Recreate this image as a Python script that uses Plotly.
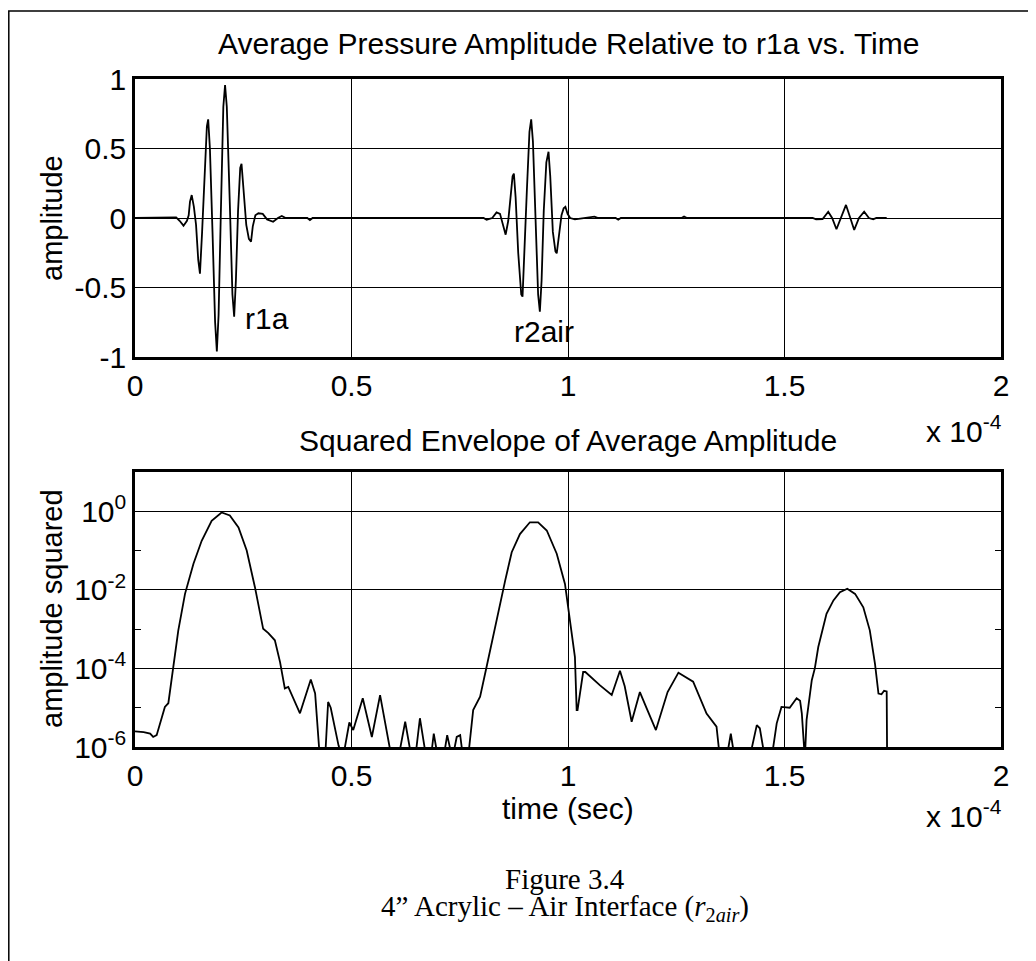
import plotly.graph_objects as go

# ---------------- data (time in units of 1e-4 s) ----------------
wave_t = [0.000, 0.085, 0.095, 0.103, 0.112, 0.120, 0.124, 0.127, 0.131, 0.136,
          0.141, 0.146, 0.150, 0.155, 0.160, 0.166, 0.169, 0.173, 0.179, 0.185,
          0.189, 0.193, 0.198, 0.204, 0.208, 0.212, 0.219, 0.225, 0.229, 0.233,
          0.238, 0.243, 0.246, 0.250, 0.257, 0.263, 0.268, 0.272, 0.278, 0.285,
          0.295, 0.305, 0.319, 0.330, 0.339, 0.348, 0.398, 0.404, 0.410,
          0.805, 0.812, 0.825, 0.835, 0.843, 0.850, 0.856, 0.862, 0.866, 0.872,
          0.875, 0.879, 0.885, 0.892, 0.895, 0.899, 0.905, 0.911, 0.915, 0.919,
          0.925, 0.931, 0.935, 0.939, 0.944, 0.950, 0.955, 0.959, 0.965, 0.971,
          0.974, 0.978, 0.985, 0.990, 0.994, 0.999, 1.005, 1.016, 1.030, 1.045,
          1.061, 1.070, 1.110, 1.116, 1.122, 1.262, 1.268, 1.275,
          1.565, 1.573, 1.588, 1.601, 1.610, 1.620, 1.630, 1.642, 1.652, 1.661,
          1.672, 1.684, 1.695, 1.705, 1.712, 1.736]
wave_a = [0.0, 0.0, 0.005, -0.02, -0.055, -0.02, 0.02, 0.118, 0.165, 0.08,
          -0.05, -0.30, -0.40, -0.10, 0.30, 0.66, 0.71, 0.50, -0.10, -0.75,
          -0.96, -0.70, 0.0, 0.80, 0.957, 0.80, 0.10, -0.55, -0.71, -0.45,
          0.05, 0.36, 0.39, 0.22, -0.05, -0.15, -0.17, -0.06, 0.02, 0.034,
          0.030, -0.01, -0.027, 0.0, 0.014, 0.0, 0.0, -0.015, 0.0,
          0.0, -0.012, 0.0, 0.04, 0.03, -0.05, -0.12, -0.02, 0.10, 0.30,
          0.32, 0.15, -0.25, -0.55, -0.566, -0.30, 0.20, 0.62, 0.71, 0.55,
          0.0, -0.55, -0.674, -0.45, 0.05, 0.40, 0.477, 0.30, -0.10, -0.24,
          -0.254, -0.15, 0.02, 0.07, 0.081, 0.03, 0.0, -0.01, -0.005, 0.0,
          0.01, 0.0, 0.0, -0.012, 0.0, 0.0, 0.01, 0.0,
          0.0, -0.01, -0.008, 0.045, 0.0, -0.081, 0.0, 0.094, 0.0, -0.086,
          0.0, 0.045, 0.0, -0.01, 0.0, 0.0]

env_t = [0.000, 0.020, 0.035, 0.042, 0.050, 0.060, 0.069, 0.077, 0.0885, 0.100,
         0.1155, 0.135, 0.154, 0.177, 0.200, 0.219, 0.239, 0.258, 0.277, 0.296,
         0.308, 0.323, 0.335, 0.346, 0.354, 0.381, 0.406, 0.416, 0.427, 0.439,
         0.446, 0.452, 0.470, 0.480, 0.495, 0.504, 0.526, 0.547, 0.566, 0.593,
         0.608, 0.624, 0.639, 0.647, 0.658, 0.673, 0.683, 0.690, 0.700, 0.712,
         0.721, 0.733, 0.743, 0.751, 0.758, 0.769, 0.781, 0.797, 0.812, 0.828,
         0.843, 0.855, 0.870, 0.889, 0.912, 0.931, 0.951, 0.974, 0.993, 1.005,
         1.016, 1.020, 1.022, 1.035, 1.040, 1.074, 1.101, 1.120, 1.131, 1.147,
         1.166, 1.181, 1.203, 1.230, 1.255, 1.289, 1.320, 1.343, 1.351, 1.366,
         1.376, 1.385, 1.419, 1.436, 1.443, 1.455, 1.470, 1.482, 1.493, 1.512,
         1.528, 1.536, 1.540, 1.547, 1.551, 1.563, 1.570, 1.578, 1.586, 1.597,
         1.613, 1.628, 1.645, 1.663, 1.682, 1.697, 1.709, 1.717, 1.724, 1.730,
         1.736, 1.737]
env_v = [2.5e-6, 2.4e-6, 2.2e-6, 1.8e-6, 2.0e-6, 4.5e-6, 1.05e-5, 1.3e-5, 1.1e-4, 9.3e-4,
         7.9e-3, 4.6e-2, 0.178, 0.575, 0.93, 0.78, 0.39, 0.10, 1.17e-2, 1.02e-3,
         7.9e-4, 5.2e-4, 1.45e-4, 3.1e-5, 3.4e-5, 7.2e-6, 5.2e-5, 2.3e-5, 5e-7, 5e-7,
         1.4e-5, 1.0e-5, 1.1e-6, 5e-7, 4.2e-6, 2.7e-6, 1.74e-5, 1.8e-6, 2.1e-5, 5e-7,
         5e-7, 4.4e-6, 5e-7, 5e-7, 5.4e-6, 5e-7, 5e-7, 2.2e-6, 5e-7, 5e-7,
         2.0e-6, 5e-7, 1.8e-6, 2.0e-6, 5e-7, 5e-7, 8.7e-6, 1.9e-5, 1.1e-4, 7.8e-4,
         4.5e-3, 1.74e-2, 9.1e-2, 0.263, 0.525, 0.525, 0.324, 8.3e-2, 1.41e-2, 1.66e-3,
         1.95e-4, 8.7e-6, 8.7e-6, 8.1e-5, 8.1e-5, 3.7e-5, 2.1e-5, 8.7e-5, 3.5e-5, 4.4e-6,
         2.5e-5, 1.0e-5, 2.7e-6, 2.5e-5, 7.8e-5, 4.6e-5, 7.1e-6, 3.3e-6, 5e-7, 5e-7,
         2.2e-6, 5e-7, 5e-7, 3.6e-6, 3.0e-6, 5e-7, 5e-7, 4.0e-6, 1.05e-5, 1.0e-5,
         1.74e-5, 1.5e-5, 7.2e-6, 5e-7, 4.9e-6, 5.0e-5, 1.0e-4, 3.5e-4, 7.8e-4, 2.45e-3,
         5.4e-3, 8.7e-3, 1.07e-2, 7.9e-3, 3.6e-3, 9.3e-4, 1.3e-4, 2.3e-5, 2.2e-5, 2.7e-5,
         2.6e-5, 5e-7]

x_ticks = [0, 0.5, 1, 1.5, 2]
x_ticklabels = ["0", "0.5", "1", "1.5", "2"]
y1_ticks = [-1, -0.5, 0, 0.5, 1]
y1_ticklabels = ["-1", "-0.5", "0", "0.5", "1"]
y2_ticks = [1e-6, 1e-4, 1e-2, 1]
y2_ticklabels = ["10<sup>-6</sup>", "10<sup>-4</sup>", "10<sup>-2</sup>", "10<sup>0</sup>"]
y2_minor = [1e-5, 1e-3, 1e-1]

title1 = "Average Pressure Amplitude Relative to r1a vs. Time"
title2 = "Squared Envelope of Average Amplitude"
xlabel2 = "time (sec)"
ylabel1 = "amplitude"
ylabel2 = "amplitude squared"
exp_label = "x 10<sup>-4</sup>"
caption1 = "Figure 3.4"
caption2 = "4\u201d Acrylic \u2013 Air Interface (<i>r</i><sub>2<i>air</i></sub>)"

# ---------------- layout geometry ----------------
OFF = 8                      # page body margin
W, H = 1036 - OFF, 961 - OFF
L, T = 135 - OFF, 79 - OFF   # plot area left/top in figure pixels
PW, PH = 866, 668
R, B = W - L - PW, H - T - PH


def px(x):          # page pixel -> paper fraction
    return (x - OFF - L) / PW


def py(y):
    return (T + PH - (y - OFF)) / PH


FONT = "Liberation Sans, Arial, sans-serif"
FS = 30
FS_ROT = 29
SERIF = "Liberation Serif, Times New Roman, serif"

fig = go.Figure()
fig.add_trace(go.Scatter(x=wave_t, y=wave_a, mode="lines",
                         line=dict(color="black", width=1.8),
                         xaxis="x", yaxis="y", showlegend=False))
fig.add_trace(go.Scatter(x=env_t, y=env_v, mode="lines",
                         line=dict(color="black", width=1.8),
                         xaxis="x2", yaxis="y2", showlegend=False))

axis_common = dict(showline=True, linecolor="black", linewidth=2.5, mirror="ticks",
                   ticks="inside", ticklen=6, tickcolor="black", tickwidth=1,
                   showgrid=True, gridcolor="black", gridwidth=1.3, zeroline=False,
                   tickfont=dict(family=FONT, size=FS, color="black"))

fig.update_layout(
    width=W, height=H,
    margin=dict(l=L, r=R, t=T, b=B, pad=0),
    paper_bgcolor="white", plot_bgcolor="white",
    xaxis=dict(domain=[0, 1], anchor="y", range=[0, 2], tickvals=x_ticks,
               ticktext=x_ticklabels, **axis_common),
    yaxis=dict(domain=[py(357), 1], anchor="x", range=[-1, 1], tickvals=y1_ticks,
               ticktext=y1_ticklabels, **axis_common),
    xaxis2=dict(domain=[0, 1], anchor="y2", range=[0, 2], tickvals=x_ticks,
                ticktext=x_ticklabels, **axis_common),
    yaxis2=dict(domain=[0, py(472)], anchor="x2", type="log", range=[-6, 1],
                tickvals=y2_ticks, ticktext=y2_ticklabels,
                minor=dict(tickvals=y2_minor, ticks="inside", ticklen=6,
                           tickcolor="black", showgrid=False),
                **axis_common),
)

ann = []


def add_text(text, x, y, size=FS, family=FONT, angle=0, xanchor="center",
             yanchor="middle", xref="paper", yref="paper"):
    ann.append(dict(text=text, x=x, y=y, xref=xref, yref=yref, showarrow=False,
                    xanchor=xanchor, yanchor=yanchor, textangle=angle,
                    font=dict(family=family, size=size, color="black")))


add_text(title1, px(568), py(44))
add_text(title2, px(568), py(440))
add_text(xlabel2, px(568), py(808))
add_text(ylabel1, px(52), py(218), size=FS_ROT, angle=-90)
add_text(ylabel2, px(52), py(609), size=FS_ROT, angle=-90)
add_text(exp_label, px(924), py(429), xanchor="left")
add_text(exp_label, px(924), py(814), xanchor="left")
add_text("r1a", 0.249, -0.72, xanchor="left", xref="x", yref="y")
add_text("r2air", 0.870, -0.82, xanchor="left", xref="x", yref="y")
add_text(caption1, px(565), py(879), size=29, family=SERIF)
add_text(caption2, px(565), py(908), size=29, family=SERIF)

fig.update_layout(annotations=ann)
fig.add_shape(type="rect", xref="paper", yref="paper",
              x0=px(8.8), y0=py(11), x1=px(1060), y1=py(990),
              line=dict(color="black", width=1.5), layer="above")

fig.write_html("out.html")
